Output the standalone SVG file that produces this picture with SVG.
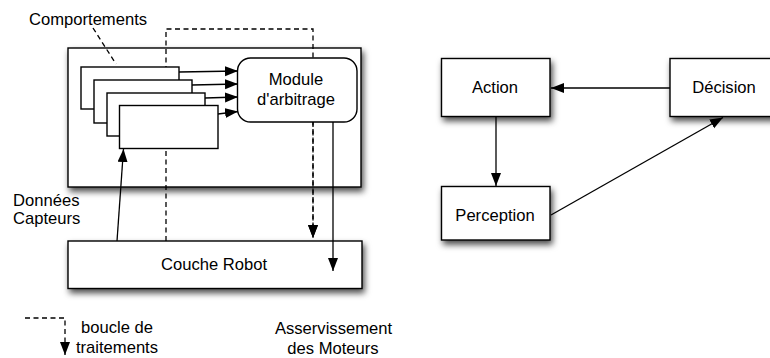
<svg xmlns="http://www.w3.org/2000/svg" width="770" height="358" viewBox="0 0 770 358">
<defs>
<filter id="sh" x="-10%" y="-10%" width="130%" height="150%">
<feDropShadow dx="2" dy="4" stdDeviation="3" flood-color="#000" flood-opacity="0.7"/>
</filter>
<marker id="ah" markerUnits="userSpaceOnUse" markerWidth="14" markerHeight="11" refX="13" refY="5" orient="auto">
<path d="M0,0 L13,5 L0,10 z" fill="#000"/>
</marker>
</defs>
<style>
.box{fill:#fff;stroke:#000;stroke-width:1.4}
.t{font-family:"Liberation Sans",Arial,sans-serif;font-size:16.6px;fill:#000}
.c{text-anchor:middle}
.ln{fill:none;stroke:#000;stroke-width:1.3}
.d{stroke-dasharray:5,3.5}
.a{marker-end:url(#ah)}
</style>
<rect width="770" height="358" fill="#fff"/>

<g id="systeme">
<rect class="box" x="68" y="48" width="293" height="139" filter="url(#sh)"/>
</g>
<g id="couche-robot">
<rect class="box" x="68" y="241" width="294" height="47.5" filter="url(#sh)"/>
<text class="t c" x="214" y="270">Couche Robot</text>
</g>

<g id="connectors-back">
<path class="ln d a" d="M166,241 V29 H313 V238"/>
<path class="ln d a" d="M313,122 V238"/>
<path class="ln a" d="M333,122 V271"/>
<path class="ln a" d="M117,241 L123.5,149"/>
</g>

<g id="comportements">
<rect class="box" x="81" y="67" width="98" height="42"/>
<rect class="box" x="94" y="80" width="98" height="43"/>
<rect class="box" x="107" y="93" width="98" height="43"/>
<rect class="box" x="119.5" y="105.5" width="98.5" height="43"/>
</g>
<g id="module">
<rect class="box" x="237.5" y="58" width="119.5" height="64" rx="13" ry="13"/>
<text class="t c" x="296" y="85">Module</text>
<text class="t c" x="296" y="105">d'arbitrage</text>
</g>

<g id="connectors">
<path class="ln a" d="M179,72 L238,71"/>
<path class="ln a" d="M192,85 L238,84"/>
<path class="ln a" d="M205,98 L238,97"/>
<path class="ln a" d="M218,114 L238,111.5"/>
<path class="ln d" d="M93,28 L116,64"/>
<path class="ln a" d="M670,88 L551,88"/>
<path class="ln a" d="M496,117 V186"/>
<path class="ln a" d="M551,215 L723,117.5"/>
<path class="ln d" d="M25,318 H65 V344"/>
<path class="ln a" d="M65,343 V355"/>
</g>

<g id="label-comportements"><text class="t" x="29" y="25">Comportements</text></g>
<g id="label-donnees">
<text class="t" x="13" y="206">Données</text>
<text class="t" x="13" y="224">Capteurs</text>
</g>
<g id="legende">
<text class="t c" x="117" y="333">boucle de</text>
<text class="t c" x="117" y="353">traitements</text>
</g>
<g id="label-asservissement">
<text class="t c" x="333.5" y="334">Asservissement</text>
<text class="t c" x="333" y="354">des Moteurs</text>
</g>

<g id="action">
<rect class="box" x="441.5" y="58.5" width="108.5" height="58" filter="url(#sh)"/>
<text class="t c" x="495" y="93">Action</text>
</g>
<g id="decision">
<rect class="box" x="670" y="58.5" width="108.5" height="58" filter="url(#sh)"/>
<text class="t c" x="724" y="93">Décision</text>
</g>
<g id="perception">
<rect class="box" x="441.5" y="186.5" width="108.5" height="53.5" filter="url(#sh)"/>
<text class="t c" x="495" y="221">Perception</text>
</g>
</svg>
